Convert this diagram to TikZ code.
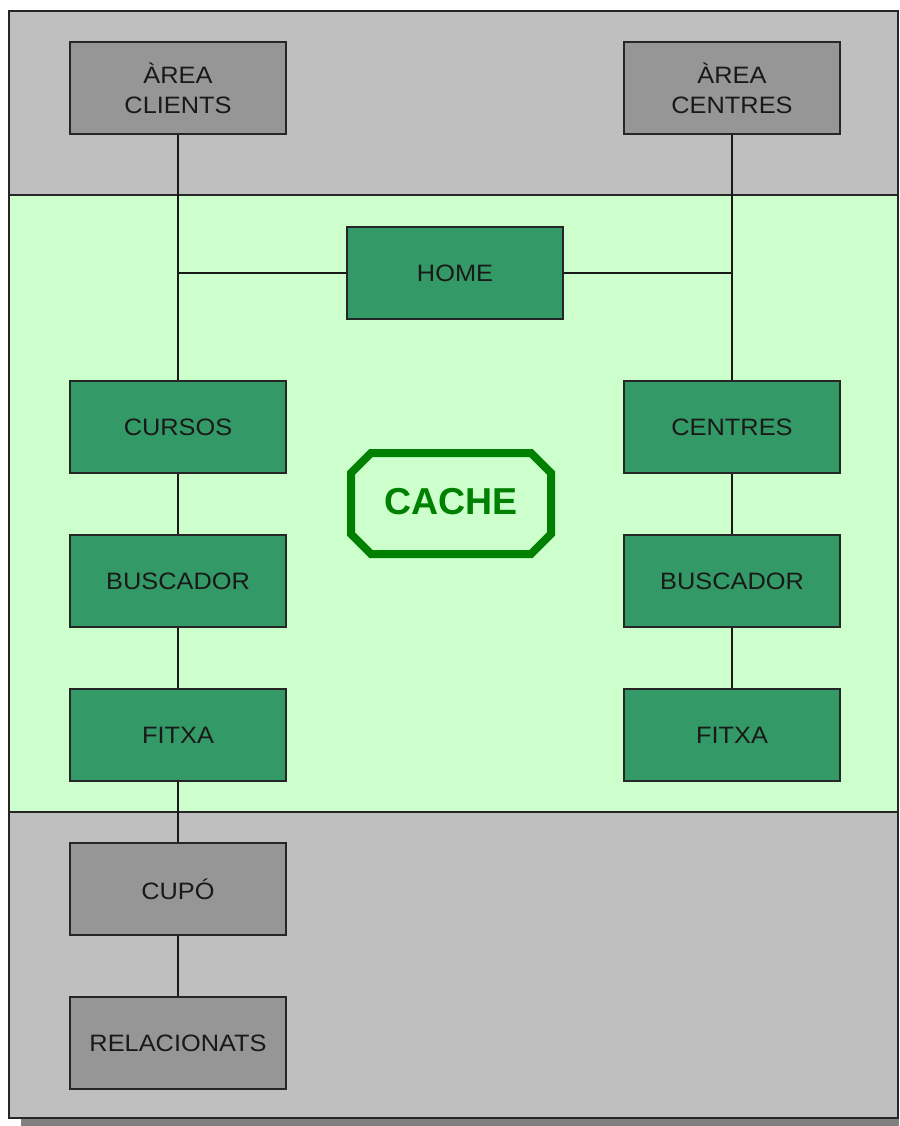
\documentclass[tikz,border=0pt]{standalone}
\usepackage{fontspec}
\setmainfont{Liberation Sans}
\newfontfamily\boxfont[FakeStretch=1.07]{Liberation Sans}
\definecolor{bandgreen}{RGB}{204,255,204}
\definecolor{boxgreen}{RGB}{51,153,102}
\definecolor{cachegreen}{RGB}{0,128,0}
\begin{document}
\begin{tikzpicture}[x=1pt,y=-1pt,
  bandline/.style={draw=black!85,line width=1.6pt},
  boxbase/.style={draw=black!85,line width=2pt,minimum width=216pt,minimum height=92pt,
    inner sep=0pt,align=center,font=\boxfont\fontsize{23.7}{30}\selectfont,text=black!90},
  greybox/.style={boxbase,fill=black!41},
  greenbox/.style={boxbase,fill=boxgreen},
  link/.style={draw=black!90,line width=1.8pt}]
\useasboundingbox (0,0) rectangle (899,1126);
% drop shadow under the frame
\fill[black!50] (21,1118) rectangle (899,1126);
% three horizontal bands
\fill[black!25] (9,11) rectangle (899,195);
\fill[bandgreen] (9,195) rectangle (899,812);
\fill[black!25] (9,812) rectangle (899,1118);
\draw[bandline] (9,195) -- (899,195);
\draw[bandline] (9,812) -- (899,812);
\draw[bandline] (898,11) -- (9,11) -- (9,1118) -- (898,1118) -- cycle;
% boxes
\node[greybox] (ac) at (178,88) {ÀREA\\CLIENTS};
\node[greybox] (ace) at (732,88) {ÀREA\\CENTRES};
\node[greenbox] (home) at (455,273) {HOME};
\node[greenbox] (cur) at (178,427) {CURSOS};
\node[greenbox] (bl) at (178,581) {BUSCADOR};
\node[greenbox] (fl) at (178,735) {FITXA};
\node[greenbox] (cen) at (732,427) {CENTRES};
\node[greenbox] (br) at (732,581) {BUSCADOR};
\node[greenbox] (fr) at (732,735) {FITXA};
\node[greybox] (cup) at (178,889) {CUPÓ};
\node[greybox] (rel) at (178,1043) {RELACIONATS};
% cache octagon
\draw[draw=cachegreen,line width=8pt,line join=miter]
  (371,453) -- (531,453) -- (551,473) -- (551,534) -- (531,554) -- (371,554)
  -- (351,534) -- (351,473) -- cycle;
\node[font=\bfseries\fontsize{37.5}{44}\selectfont,text=cachegreen]
  (cache) at (451,502) {CACHE};
% connectors
\coordinate (jl) at (ac.south |- home.west);
\coordinate (jr) at (ace.south |- home.east);
\draw[link] (ac.south) -- (cur.north);
\draw[link] (ace.south) -- (cen.north);
\draw[link] (home.west) -- (jl);
\draw[link] (home.east) -- (jr);
\draw[link] (cur.south) -- (bl.north);
\draw[link] (bl.south) -- (fl.north);
\draw[link] (fl.south) -- (cup.north);
\draw[link] (cup.south) -- (rel.north);
\draw[link] (cen.south) -- (br.north);
\draw[link] (br.south) -- (fr.north);
\end{tikzpicture}
\end{document}
